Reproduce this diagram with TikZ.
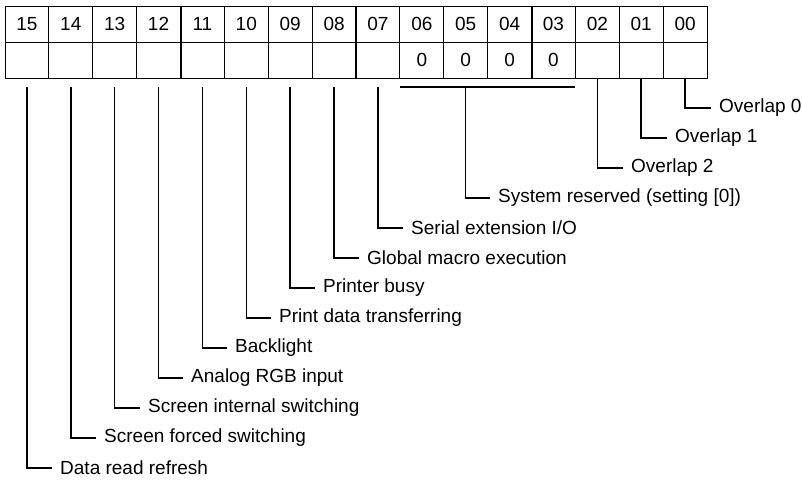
\documentclass[tikz,border=0pt]{standalone}
\usepackage{fontspec}
\setmainfont{Liberation Sans}
\usetikzlibrary{positioning}

\begin{document}
\begin{tikzpicture}[
  x=1pt, y=-1pt,
  font=\fontsize{19}{21}\selectfont,
  cell/.style={draw, line width=0.9pt, minimum width=43.875pt, minimum height=36pt,
               inner sep=0pt, outer sep=0pt, anchor=north west},
  sep/.style={line width=2pt},
  lead/.style={line width=1.5pt},
  lbl/.style={anchor=west, inner xsep=8pt, inner ysep=0pt}
]
\useasboundingbox (0,0) rectangle (802,479);
% bit cells
\foreach \k in {0,...,15} {
  \pgfmathtruncatemacro\bit{15-\k}
  \edef\nm{\ifnum\bit<10 0\fi\bit}
  \node[cell] (h\nm) at ({5+43.875*\k},6) {\nm};
  \node[cell] (v\nm) at ({5+43.875*\k},42) {};
}
\foreach \nm in {06,05,04,03} \node at (v\nm) {0};
\draw[sep] (h11.north west) -- (v11.south west);
\draw[sep] (h07.north west) -- (v07.south west);
\draw[sep] (h03.north west) -- (v03.south west);

% labels
\node[lbl] (l00) at (711,108) {Overlap 0};
\node[lbl] (l01) at (667,138) {Overlap 1};
\node[lbl] (l02) at (623,168) {Overlap 2};
\node[lbl] (lrsv) at (490,198) {System reserved (setting [0])};
\node[lbl] (l07) at (403,228) {Serial extension I/O};
\node[lbl] (l08) at (359,258) {Global macro execution};
\node[lbl] (l09) at (315,288) {Printer busy};
\node[lbl] (l10) at (271,318) {Print data transferring};
\node[lbl] (l11) at (227,348) {Backlight};
\node[lbl] (l12) at (183,378) {Analog RGB input};
\node[lbl] (l13) at (140,408) {Screen internal switching};
\node[lbl] (l14) at (96,438) {Screen forced switching};
\node[lbl] (l15) at (52,468) {Data read refresh};

% leads
\draw[lead] (v00.south) |- (l00.west);
\draw[lead] (v01.south) |- (l01.west);
\draw[lead] (v02.south) |- (l02.west);
\draw[lead] ([yshift=-9pt]v06.south west) -- ([yshift=-9pt]v03.south east);
\draw[lead] ([yshift=-9pt]v05.south) |- (lrsv.west);
\foreach \nm in {07,08,09,10,11,12,13,14,15}
  \draw[lead] ([yshift=-9pt]v\nm.south) |- (l\nm.west);
\end{tikzpicture}
\end{document}
